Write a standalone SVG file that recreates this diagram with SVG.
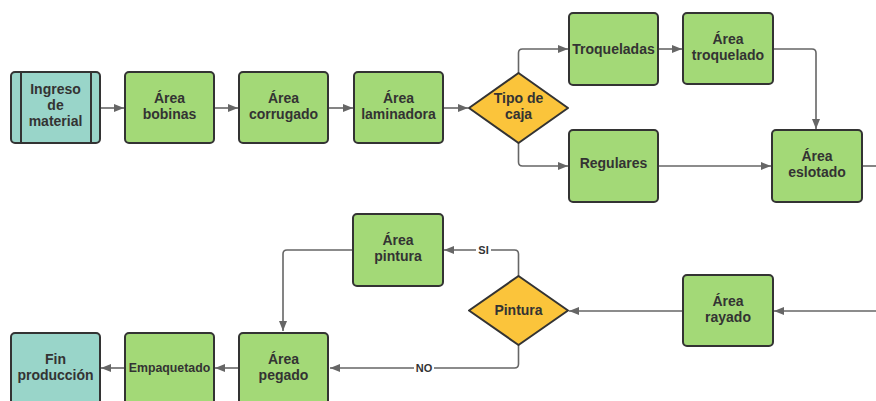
<svg xmlns="http://www.w3.org/2000/svg" width="876" height="401" viewBox="0 0 876 401">
<defs>
<marker id="ah" markerWidth="10" markerHeight="8" refX="10" refY="4" orient="auto" markerUnits="userSpaceOnUse">
<path d="M0,0 L10,4 L0,8 Z" fill="#666"/>
</marker>
<style>
.g{fill:#a3d977;stroke:#333;stroke-width:2}
.t{fill:#99d5c9;stroke:#333;stroke-width:2}
.d{fill:#fbc43b;stroke:#333;stroke-width:2}
.c{fill:none;stroke:#666;stroke-width:1.6;marker-end:url(#ah)}
.cn{fill:none;stroke:#666;stroke-width:1.6}
text{font-family:"Liberation Sans",Arial,sans-serif;font-weight:bold;font-size:14px;fill:#333;text-anchor:middle}
.s{font-size:12.3px}
.l{font-size:11px}
</style>
</defs>
<rect width="876" height="401" fill="#fff"/>
<g id="connectors">
<path class="c" d="M100,108 H124"/>
<path class="c" d="M214,108 H238"/>
<path class="c" d="M328,108 H353"/>
<path class="c" d="M443,108 H468"/>
<path class="c" d="M518.5,73 V53 Q518.5,49 522.5,49 H568"/>
<path class="c" d="M518.5,143 V162 Q518.5,166 522.5,166 H568"/>
<path class="c" d="M658,49 H682"/>
<path class="c" d="M773,49 H812 Q816,49 816,53 V129"/>
<path class="c" d="M658,166 H771"/>
<path class="cn" d="M862,166 H876"/>
<path class="c" d="M876,311 H774"/>
<path class="c" d="M683,311 H569"/>
<path class="c" d="M518.5,276 V254 Q518.5,250 514.5,250 H444"/>
<path class="c" d="M518.5,345 V364 Q518.5,368 514.5,368 H330"/>
<path class="c" d="M353,250 H287 Q283,250 283,254 V331"/>
<path class="c" d="M239,368 H215"/>
<path class="c" d="M125,368 H101"/>
<rect x="476" y="243" width="15" height="13" fill="#fff"/>
<text class="l" x="483.5" y="254">SI</text>
<rect x="414" y="361" width="20" height="13" fill="#fff"/>
<text class="l" x="424" y="372">NO</text>
</g>
<g id="ingreso">
<rect class="t" x="11" y="72" width="89" height="71" rx="4"/>
<path d="M21,72 V143 M91,72 V143" stroke="#333" stroke-width="2"/>
<text x="55.5" y="94">Ingreso</text>
<text x="55.5" y="110">de</text>
<text x="55.5" y="126">material</text>
</g>
<g id="bobinas">
<rect class="g" x="125" y="72" width="89" height="71" rx="4"/>
<text x="169.5" y="103">Área</text>
<text x="169.5" y="119">bobinas</text>
</g>
<g id="corrugado">
<rect class="g" x="239" y="72" width="89" height="71" rx="4"/>
<text x="283.5" y="103">Área</text>
<text x="283.5" y="119">corrugado</text>
</g>
<g id="laminadora">
<rect class="g" x="354" y="72" width="89" height="71" rx="4"/>
<text x="398.5" y="103">Área</text>
<text x="398.5" y="119">laminadora</text>
</g>
<g id="tipo">
<path class="d" d="M518.5,73 L568,108 L518.5,143 L469,108 Z" stroke-linejoin="round"/>
<text x="518.5" y="103">Tipo de</text>
<text x="518.5" y="119">caja</text>
</g>
<g id="troqueladas">
<rect class="g" x="569" y="13" width="89" height="72" rx="4"/>
<text x="613.5" y="54">Troqueladas</text>
</g>
<g id="troquelado">
<rect class="g" x="683" y="13" width="90" height="71" rx="4"/>
<text x="728" y="44">Área</text>
<text x="728" y="60">troquelado</text>
</g>
<g id="regulares">
<rect class="g" x="569" y="130" width="89" height="72" rx="4"/>
<text x="613.5" y="168">Regulares</text>
</g>
<g id="eslotado">
<rect class="g" x="772" y="130" width="90" height="72" rx="4"/>
<text x="817" y="161">Área</text>
<text x="817" y="177">eslotado</text>
</g>
<g id="rayado">
<rect class="g" x="683" y="275" width="90" height="71" rx="4"/>
<text x="728" y="306">Área</text>
<text x="728" y="322">rayado</text>
</g>
<g id="pintura-dec">
<path class="d" d="M518.5,276 L568,310.5 L518.5,345 L469,310.5 Z" stroke-linejoin="round"/>
<text x="518.5" y="315">Pintura</text>
</g>
<g id="pintura">
<rect class="g" x="353" y="214" width="90" height="72" rx="4"/>
<text x="398" y="245">Área</text>
<text x="398" y="261">pintura</text>
</g>
<g id="pegado">
<rect class="g" x="239" y="333" width="89" height="72" rx="4"/>
<text x="283.5" y="364">Área</text>
<text x="283.5" y="380">pegado</text>
</g>
<g id="empaquetado">
<rect class="g" x="125" y="333" width="89" height="72" rx="4"/>
<text class="s" x="169.5" y="372">Empaquetado</text>
</g>
<g id="fin">
<rect class="t" x="11" y="333" width="89" height="72" rx="4"/>
<text x="55.5" y="364">Fin</text>
<text x="55.5" y="380">producción</text>
</g>
</svg>
